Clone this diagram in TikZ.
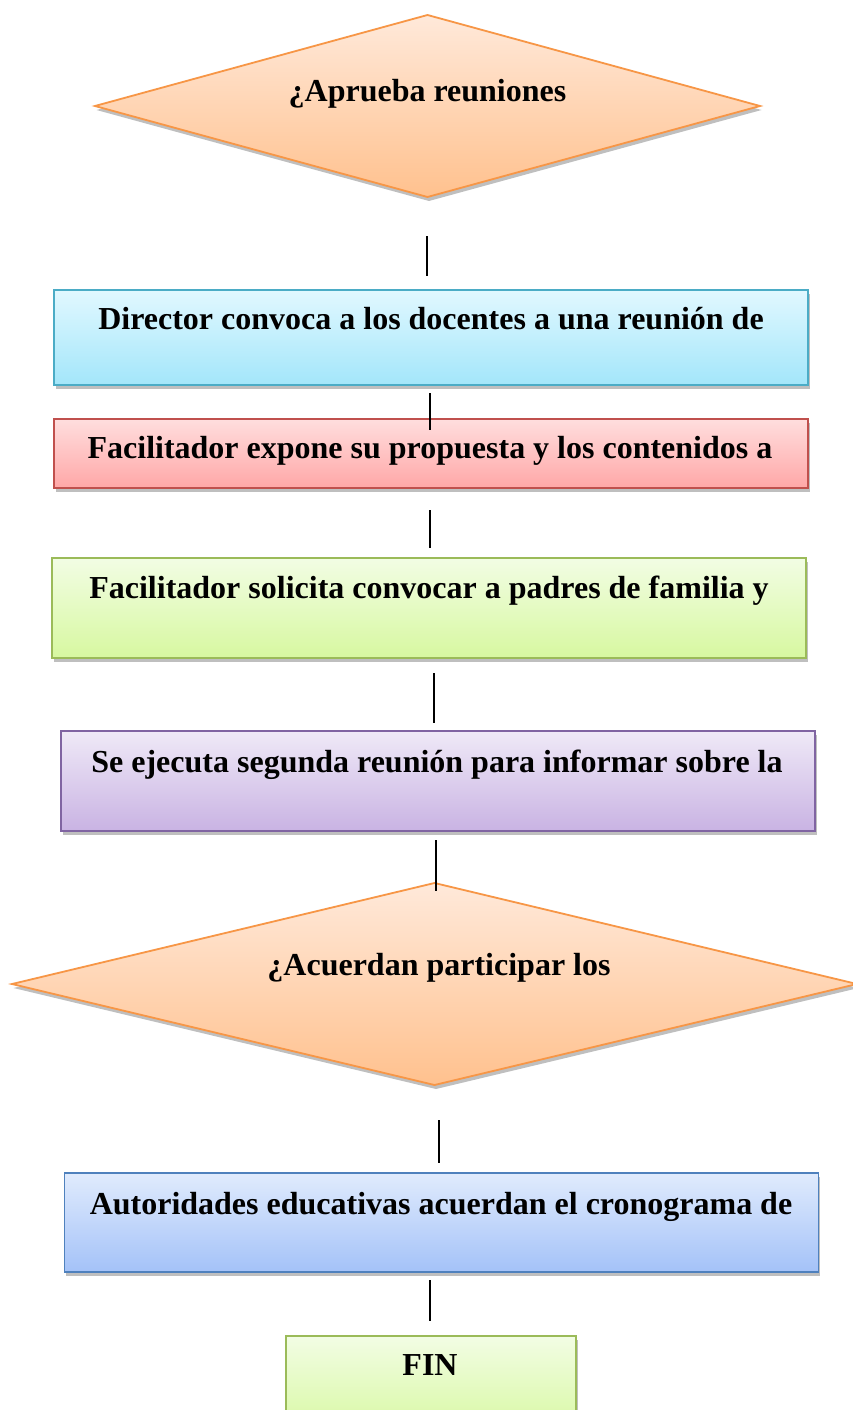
\documentclass[tikz,border=0pt]{standalone}
\usepackage{fontspec}
\setmainfont{Liberation Serif}
\usetikzlibrary{shapes.geometric,shadows}
\definecolor{orBorder}{HTML}{F79646}
\definecolor{orTop}{HTML}{FFE9DA}
\definecolor{orBot}{HTML}{FFC18E}
\definecolor{cyBorder}{HTML}{4BACC6}
\definecolor{cyTop}{HTML}{E1F8FF}
\definecolor{cyBot}{HTML}{A3E6FA}
\definecolor{rdBorder}{HTML}{C0504D}
\definecolor{rdTop}{HTML}{FFDEDE}
\definecolor{rdBot}{HTML}{FFA7A7}
\definecolor{grBorder}{HTML}{9BBB59}
\definecolor{grTop}{HTML}{F2FDE4}
\definecolor{grBot}{HTML}{D7F8A0}
\definecolor{puBorder}{HTML}{8064A2}
\definecolor{puTop}{HTML}{EFE9F7}
\definecolor{puBot}{HTML}{C9B3E3}
\definecolor{blBorder}{HTML}{4F81BD}
\definecolor{blTop}{HTML}{E0EBFD}
\definecolor{blBot}{HTML}{A4C2F8}
\tikzset{
  shp/.style={line width=1.8pt, inner sep=0pt, outer sep=0pt,
    drop shadow={shadow xshift=1.5pt, shadow yshift=-4pt, opacity=0.25, fill=black}},
  boxshape/.style={shp, rectangle, minimum width=754pt, minimum height=#1},
  decshape/.style={shp, diamond, draw=orBorder, top color=orTop, bottom color=orBot},
  cyanbox/.style={draw=cyBorder, top color=cyTop, bottom color=cyBot},
  redbox/.style={draw=rdBorder, top color=rdTop, bottom color=rdBot},
  greenbox/.style={draw=grBorder, top color=grTop, bottom color=grBot},
  purplebox/.style={draw=puBorder, top color=puTop, bottom color=puBot},
  bluebox/.style={draw=blBorder, top color=blTop, bottom color=blBot},
  txt/.style={anchor=base, inner sep=0pt, font=\fontsize{32}{38}\selectfont\bfseries},
  conn/.style={line width=1.4pt, black}
}
\begin{document}
\begin{tikzpicture}[x=1pt, y=-1pt]
\useasboundingbox[fill=white] (0,0) rectangle (853,1410);
% shapes
\node[decshape, minimum width=665pt, minimum height=182pt] (d1) at (427.5,106) {};
\node[boxshape=95pt, cyanbox] (b1) at (431,337.5) {};
\node[boxshape=69pt, redbox] (b2) at (431,453.5) {};
\node[boxshape=100pt, greenbox] (b3) at (429,608) {};
\node[boxshape=100pt, purplebox] (b4) at (438,781) {};
\node[decshape, minimum width=845pt, minimum height=202pt] (d2) at (434.5,984) {};
\node[boxshape=99pt, bluebox] (b5) at (441.5,1222.5) {};
\node[shp, rectangle, greenbox, minimum width=290pt, minimum height=100pt] (b6) at (431,1386) {};
% texts
\node[txt] (t1) at (427.5,102) {¿Aprueba reuniones};
\node[txt] (t2) at (431,329) {Director convoca a los docentes a una reunión de};
\node[txt] (t3) at (430,458) {Facilitador expone su propuesta y los contenidos a};
\node[txt] (t4) at (429,598) {Facilitador solicita convocar a padres de familia y};
\node[txt] (t5) at (437,772) {Se ejecuta segunda reunión para informar sobre la};
\node[txt] (t6) at (439,975) {¿Acuerdan participar los};
\node[txt] (t7) at (441,1214) {Autoridades educativas acuerdan el cronograma de};
\node[txt] (t8) at (430,1375) {FIN};
% connectors
\coordinate (c1a) at (427,236); \coordinate (c1b) at (427,276);
\coordinate (c2a) at (430,393); \coordinate (c2b) at (430,430);
\coordinate (c3a) at (430,510); \coordinate (c3b) at (430,548);
\coordinate (c4a) at (434,673); \coordinate (c4b) at (434,723);
\coordinate (c5a) at (436,840); \coordinate (c5b) at (436,891);
\coordinate (c6a) at (439,1120); \coordinate (c6b) at (439,1163);
\coordinate (c7a) at (430,1280); \coordinate (c7b) at (430,1321);
\draw[conn] (c1a) -- (c1b);
\draw[conn] (c2a) -- (c2b);
\draw[conn] (c3a) -- (c3b);
\draw[conn] (c4a) -- (c4b);
\draw[conn] (c5a) -- (c5b);
\draw[conn] (c6a) -- (c6b);
\draw[conn] (c7a) -- (c7b);
\end{tikzpicture}
\end{document}
